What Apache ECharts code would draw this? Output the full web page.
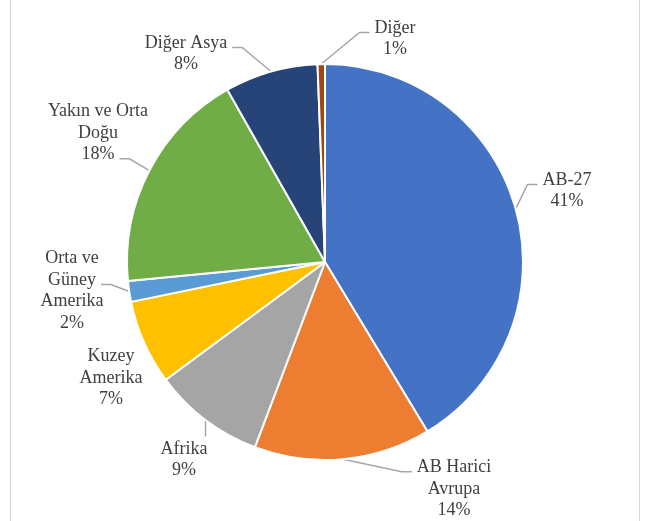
<!DOCTYPE html>
<html lang="tr">
<head>
    <meta charset="UTF-8">
    <title>Pie</title>
    <script src="https://cdn.jsdelivr.net/npm/echarts@6/dist/echarts.min.js"></script>
    <style>
        html, body { margin: 0; padding: 0; background: #fff; }
        #main { width: 652px; height: 521px; }
        .frame { position: absolute; top: 0; bottom: 0; width: 1px; background: #d9d9d9; }
    </style>
</head>
<body>
    <div class="frame" style="left:10px"></div>
    <div class="frame" style="left:639px"></div>
    <div id="main"></div>
<script>
    // bölgeler (saat yönünde, tepeden başlayarak)
    var regions = ['AB-27', 'AB Harici\nAvrupa', 'Afrika', 'Kuzey\nAmerika', 'Orta ve\nGüney\nAmerika', 'Yakın ve Orta\nDoğu', 'Diğer Asya', 'Diğer'];
    var shares = [41.3, 14.4, 9.1, 6.9, 1.7, 18.3, 7.6, 0.6];
    var colors = ['#4472C4', '#ED7D31', '#A5A5A5', '#FFC000', '#5B9BD5', '#70AD47', '#264478', '#9E480E'];
    // etiket merkezleri (Excel "en uygun" yerleşimi)
    var labelPos = [[567, 191], [454, 489], [184, 460], [111, 378], [72, 291], [98, 133], [186, 54], [395, 39]];
    // kılavuz çizginin bağlandığı satır: sayı = satır, 'top' = üst kenar, null = çizgi yok
    var leaderRow = [0, 0, 'top', null, 1, 2, 0, 0];

    var FONT = 'Times New Roman';
    var FONT_SIZE = 18;
    var LINE_H = 21.5;

    var ctx = document.createElement('canvas').getContext('2d');
    ctx.font = FONT_SIZE + 'px "' + FONT + '", serif';
    function textWidth(s) {
        return ctx.measureText(s).width;
    }
    function labelText(name, percent) {
        return name + '\n' + Math.round(percent) + '%';
    }

    var seriesData = [];
    for (var i = 0; i < regions.length; i++) {
        seriesData.push({
            name: regions[i],
            value: shares[i],
            itemStyle: { color: colors[i] },
            labelLine: { show: leaderRow[i] !== null }
        });
    }

    var myChart = echarts.init(document.getElementById('main'));
    var option = {
        animation: false,
        series: [
            {
                type: 'pie',
                center: [325, 262],
                radius: 198,
                startAngle: 90,
                clockwise: true,
                data: seriesData,
                itemStyle: { borderColor: '#fff', borderWidth: 2 },
                label: {
                    position: 'outside',
                    fontFamily: FONT + ', serif',
                    fontSize: FONT_SIZE,
                    lineHeight: LINE_H,
                    color: '#404040',
                    formatter: function (p) {
                        return labelText(p.name, p.percent);
                    }
                },
                labelLine: {
                    length: 12,
                    length2: 12,
                    lineStyle: { color: '#a6a6a6', width: 1.5 }
                },
                labelLayout: function (params) {
                    var idx = params.dataIndex;
                    var p = labelPos[idx];
                    var r = params.labelRect;
                    var res = { x: p[0], y: p[1], align: 'center', verticalAlign: 'middle' };
                    var row = leaderRow[idx];
                    var pts = params.labelLinePoints;
                    if (row !== null && pts) {
                        var a = pts[0];
                        var top = p[1] - r.height / 2;
                        if (row === 'top') {
                            res.labelLinePoints = [a, [a[0], (a[1] + top - 2) / 2], [a[0], top - 2]];
                        } else {
                            var rows = labelText(regions[idx], shares[idx] / 99.9 * 100).split('\n');
                            var w = textWidth(rows[row]);
                            var y = top + row * LINE_H + 15;
                            var right = p[0] > a[0];
                            var ex = right ? p[0] - w / 2 - 5 : p[0] + w / 2 + 5;
                            var bx = right ? ex - 10 : ex + 10;
                            res.labelLinePoints = [a, [bx, y], [ex, y]];
                        }
                    }
                    return res;
                }
            }
        ]
    };
    myChart.setOption(option);
</script>
</body>
</html>
